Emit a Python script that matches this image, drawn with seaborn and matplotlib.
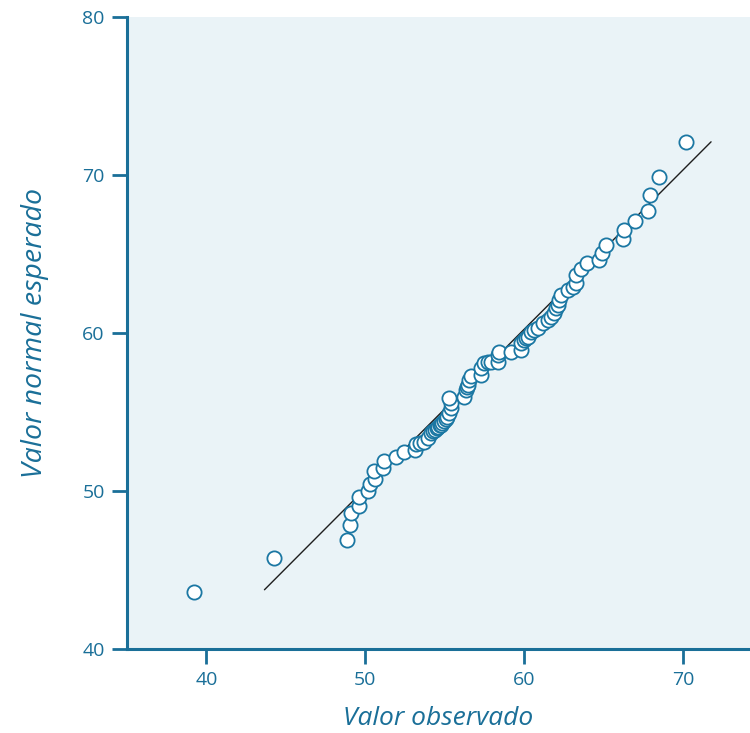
import matplotlib
matplotlib.use("Agg")
import matplotlib.pyplot as plt
import seaborn as sns
import pandas as pd

observed = [39.21, 44.25, 48.84, 49.03, 49.09, 49.59, 49.59, 50.16, 50.28, 50.60,
            50.54, 51.10, 51.16, 51.92, 52.42, 53.11, 53.17, 53.45, 53.68, 53.93,
            54.12, 54.25, 54.37, 54.50, 54.56, 54.68, 54.75, 54.85, 54.94, 55.05,
            55.13, 55.25, 55.38, 55.38, 55.25, 56.20, 56.32, 56.40, 56.45, 56.51,
            56.64, 57.26, 57.26, 57.45, 57.70, 57.89, 58.33, 58.33, 58.40, 59.15,
            59.78, 59.78, 59.97, 60.10, 60.22, 60.41, 60.60, 60.85, 61.16, 61.48,
            61.67, 61.86, 61.98, 62.11, 62.17, 62.30, 62.74, 63.05, 63.24, 63.24,
            63.55, 63.93, 64.69, 64.88, 65.13, 66.20, 66.26, 66.95, 67.77, 67.90,
            68.46, 70.16]
expected = [43.61, 45.77, 46.91, 47.86, 48.62, 49.06, 49.63, 50.01, 50.46, 50.77,
            51.28, 51.47, 51.91, 52.17, 52.48, 52.61, 52.99, 53.05, 53.12, 53.37,
            53.69, 53.78, 53.88, 53.98, 54.07, 54.15, 54.20, 54.33, 54.45, 54.58,
            54.70, 54.96, 55.27, 55.59, 55.91, 55.97, 56.41, 56.58, 56.73, 57.05,
            57.30, 57.36, 57.81, 58.12, 58.15, 58.19, 58.19, 58.63, 58.82, 58.82,
            58.95, 59.39, 59.58, 59.68, 59.77, 60.09, 60.22, 60.34, 60.66, 60.85,
            61.04, 61.29, 61.61, 61.80, 62.12, 62.43, 62.75, 62.88, 63.19, 63.70,
            64.02, 64.40, 64.65, 65.09, 65.54, 65.92, 66.55, 67.06, 67.75, 68.71,
            69.85, 72.07]

line_x = [43.65, 71.75]
line_y = [43.75, 72.1]

x_ticks = [40, 50, 60, 70]
y_ticks = [40, 50, 60, 70, 80]
x_label = "Valor observado"
y_label = "Valor normal esperado"

BLUE = "#1a6f98"
MARK = "#1b77a3"
BG = "#eaf3f7"

sns.set_theme(style="white")
plt.rcParams["font.family"] = ["Open Sans", "DejaVu Sans"]

fig = plt.figure(figsize=(7.5, 7.33), dpi=100)
ax = fig.add_axes([0.1693, 0.1146, 0.8307, 0.8622])
ax.set_facecolor(BG)

df = pd.DataFrame({"obs": observed, "exp": expected})
sns.lineplot(x=line_x, y=line_y, ax=ax, color="#1e1e1e", linewidth=1.0, zorder=2)
sns.scatterplot(data=df, x="obs", y="exp", ax=ax, s=105, facecolor="white",
                edgecolor=MARK, linewidth=1.3, zorder=3)

ax.set_xlim(35, 74.2)
ax.set_ylim(40, 80)
ax.set_xticks(x_ticks)
ax.set_yticks(y_ticks)
ax.tick_params(axis="both", direction="out", length=11, width=2, color=BLUE,
               labelcolor=BLUE, labelsize=14, pad=5,
               bottom=True, left=True)
for s in ["top", "right"]:
    ax.spines[s].set_visible(False)
for s in ["left", "bottom"]:
    ax.spines[s].set_color(BLUE)
    ax.spines[s].set_linewidth(2.2)

ax.set_xlabel(x_label, fontsize=19, style="italic", color=BLUE, labelpad=12)
ax.set_ylabel(y_label, fontsize=20.5, style="italic", color=BLUE, labelpad=24)

fig.savefig("out.png", dpi=100)
